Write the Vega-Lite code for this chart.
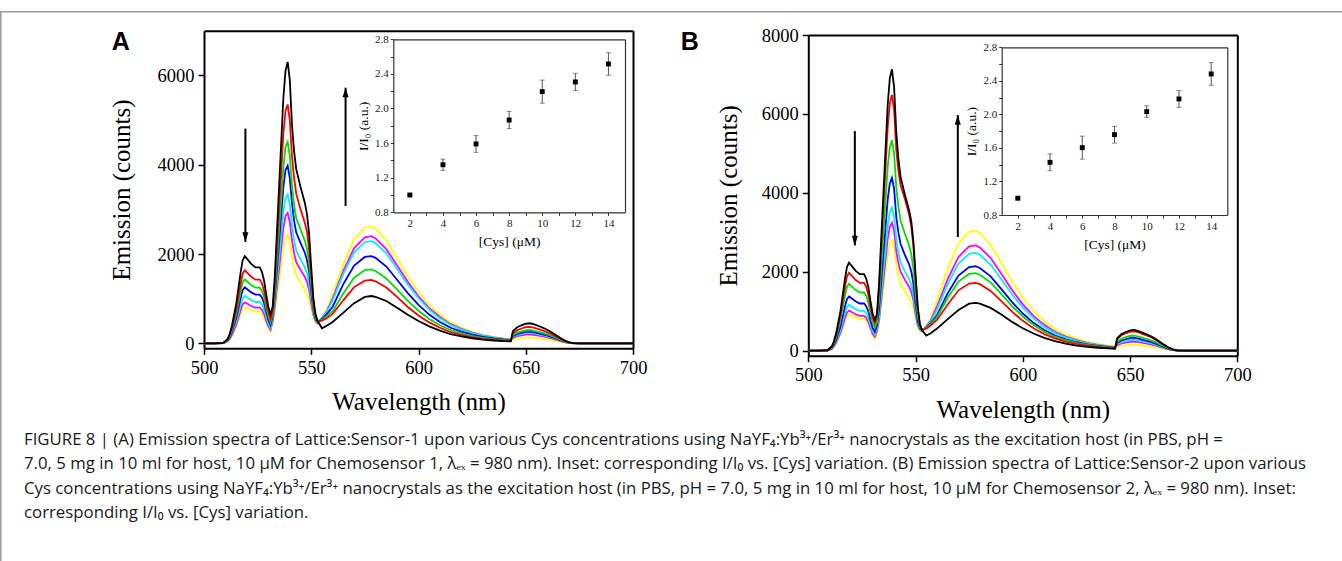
{
"$schema": "https://vega.github.io/schema/vega-lite/v6.json",
"width": 1342, "height": 561, "autosize": {"type": "none"}, "padding": 0, "background": "white",
"config": {"view": {"stroke": null}, "axis": {"grid": false, "labelFlush": false, "labelOverlap": false, "labelFont": "Liberation Serif", "titleFont": "Liberation Serif", "titleFontWeight": "normal", "labelColor": "#000", "titleColor": "#000", "domainColor": "#000", "tickColor": "#000"}},
"title": {"text": ["FIGURE 8 | (A) Emission spectra of Lattice:Sensor-1 upon various Cys concentrations using NaYF₄:Yb³⁺/Er³⁺ nanocrystals as the excitation host (in PBS, pH =", "7.0, 5 mg in 10 ml for host, 10 μM for Chemosensor 1, λₑₓ = 980 nm). Inset: corresponding I/I₀ vs. [Cys] variation. (B) Emission spectra of Lattice:Sensor-2 upon various", "Cys concentrations using NaYF₄:Yb³⁺/Er³⁺ nanocrystals as the excitation host (in PBS, pH = 7.0, 5 mg in 10 ml for host, 10 μM for Chemosensor 2, λₑₓ = 980 nm). Inset:", "corresponding I/I₀ vs. [Cys] variation."], "orient": "bottom", "anchor": "start", "frame": "group", "offset": -130, "dx": 24, "baseline": "top", "font": "Open Sans", "fontSize": 16.8, "fontWeight": "normal", "color": "#1a1a1a", "lineHeight": 24.5},
"datasets": {
"spec": [
{"p":"A","w":500,"K":0,"R":0,"G":0,"B":0,"C":0,"M":0,"Y":0},
{"p":"A","w":505,"K":0,"R":0,"G":0,"B":0,"C":0,"M":0,"Y":0},
{"p":"A","w":509,"K":10,"R":8,"G":7,"B":6,"C":5,"M":5,"Y":4},
{"p":"A","w":511,"K":98,"R":82,"G":72,"B":63,"C":53,"M":46,"Y":41},
{"p":"A","w":512,"K":215,"R":180,"G":158,"B":138,"C":117,"M":101,"Y":89},
{"p":"A","w":513,"K":391,"R":328,"G":287,"B":251,"C":213,"M":184,"Y":162},
{"p":"A","w":515,"K":880,"R":738,"G":646,"B":565,"C":479,"M":414,"Y":365},
{"p":"A","w":517,"K":1564,"R":1312,"G":1148,"B":1004,"C":852,"M":736,"Y":648},
{"p":"A","w":518,"K":1857,"R":1558,"G":1363,"B":1192,"C":1012,"M":874,"Y":770},
{"p":"A","w":519,"K":1955,"R":1640,"G":1435,"B":1255,"C":1065,"M":920,"Y":810},
{"p":"A","w":520,"K":1896,"R":1591,"G":1392,"B":1217,"C":1033,"M":892,"Y":786},
{"p":"A","w":522,"K":1779,"R":1492,"G":1306,"B":1142,"C":969,"M":837,"Y":737},
{"p":"A","w":524,"K":1700,"R":1427,"G":1248,"B":1092,"C":927,"M":800,"Y":705},
{"p":"A","w":526,"K":1700,"R":1427,"G":1248,"B":1092,"C":927,"M":800,"Y":705},
{"p":"A","w":527,"K":1603,"R":1345,"G":1177,"B":1029,"C":873,"M":754,"Y":664},
{"p":"A","w":528,"K":1408,"R":1181,"G":1033,"B":904,"C":767,"M":662,"Y":583},
{"p":"A","w":529,"K":1095,"R":918,"G":804,"B":703,"C":596,"M":515,"Y":454},
{"p":"A","w":530,"K":821,"R":689,"G":603,"B":527,"C":447,"M":386,"Y":340},
{"p":"A","w":531,"K":645,"R":541,"G":474,"B":414,"C":351,"M":304,"Y":267},
{"p":"A","w":532,"K":820,"R":720,"G":650,"B":600,"C":540,"M":500,"Y":420},
{"p":"A","w":533,"K":1500,"R":1300,"G":1150,"B":1050,"C":900,"M":820,"Y":700},
{"p":"A","w":535,"K":3500,"R":3000,"G":2550,"B":2250,"C":1900,"M":1670,"Y":1400},
{"p":"A","w":537,"K":5500,"R":4700,"G":3950,"B":3500,"C":2950,"M":2580,"Y":2150},
{"p":"A","w":538,"K":6100,"R":5200,"G":4400,"B":3880,"C":3250,"M":2850,"Y":2380},
{"p":"A","w":539,"K":6300,"R":5350,"G":4510,"B":3980,"C":3330,"M":2920,"Y":2440},
{"p":"A","w":540,"K":5900,"R":5000,"G":4200,"B":3700,"C":3100,"M":2720,"Y":2270},
{"p":"A","w":541,"K":4900,"R":4200,"G":3550,"B":3150,"C":2650,"M":2320,"Y":1950},
{"p":"A","w":542,"K":4300,"R":3700,"G":3100,"B":2750,"C":2300,"M":2020,"Y":1700},
{"p":"A","w":543,"K":3900,"R":3350,"G":2800,"B":2480,"C":2080,"M":1820,"Y":1530},
{"p":"A","w":545,"K":3500,"R":3000,"G":2550,"B":2250,"C":1880,"M":1650,"Y":1350},
{"p":"A","w":547,"K":3150,"R":2700,"G":2300,"B":2030,"C":1700,"M":1490,"Y":1200},
{"p":"A","w":548,"K":2900,"R":2500,"G":2120,"B":1870,"C":1570,"M":1380,"Y":1100},
{"p":"A","w":549,"K":2450,"R":2100,"G":1800,"B":1600,"C":1350,"M":1200,"Y":980},
{"p":"A","w":550,"K":1700,"R":1500,"G":1300,"B":1150,"C":1000,"M":900,"Y":780},
{"p":"A","w":551,"K":1000,"R":900,"G":800,"B":750,"C":680,"M":640,"Y":580},
{"p":"A","w":552,"K":650,"R":600,"G":560,"B":540,"C":510,"M":500,"Y":470},
{"p":"A","w":553,"K":500,"R":490,"G":480,"B":470,"C":460,"M":450,"Y":440},
{"p":"A","w":555,"K":340,"R":510,"G":530,"B":550,"C":560,"M":570,"Y":580},
{"p":"A","w":557,"K":390,"R":560,"G":600,"B":640,"C":680,"M":700,"Y":730},
{"p":"A","w":560,"K":480,"R":660,"G":720,"B":820,"C":960,"M":1010,"Y":1100},
{"p":"A","w":565,"K":690,"R":970,"G":1120,"B":1330,"C":1560,"M":1630,"Y":1780},
{"p":"A","w":570,"K":900,"R":1260,"G":1470,"B":1740,"C":2040,"M":2135,"Y":2330},
{"p":"A","w":575,"K":1040,"R":1405,"G":1640,"B":1935,"C":2270,"M":2375,"Y":2595},
{"p":"A","w":578,"K":1060,"R":1420,"G":1655,"B":1955,"C":2290,"M":2400,"Y":2620},
{"p":"A","w":580,"K":1040,"R":1390,"G":1620,"B":1915,"C":2245,"M":2350,"Y":2570},
{"p":"A","w":585,"K":950,"R":1250,"G":1455,"B":1720,"C":2015,"M":2110,"Y":2305},
{"p":"A","w":590,"K":800,"R":1040,"G":1210,"B":1425,"C":1670,"M":1750,"Y":1910},
{"p":"A","w":595,"K":640,"R":815,"G":950,"B":1125,"C":1315,"M":1380,"Y":1505},
{"p":"A","w":600,"K":500,"R":625,"G":730,"B":860,"C":1010,"M":1055,"Y":1150},
{"p":"A","w":605,"K":380,"R":470,"G":545,"B":645,"C":755,"M":790,"Y":865},
{"p":"A","w":610,"K":285,"R":350,"G":405,"B":480,"C":560,"M":590,"Y":640},
{"p":"A","w":615,"K":210,"R":255,"G":300,"B":350,"C":410,"M":430,"Y":470},
{"p":"A","w":620,"K":155,"R":190,"G":223,"B":264,"C":310,"M":325,"Y":355},
{"p":"A","w":625,"K":115,"R":142,"G":165,"B":195,"C":230,"M":240,"Y":262},
{"p":"A","w":630,"K":85,"R":107,"G":124,"B":147,"C":172,"M":180,"Y":197},
{"p":"A","w":635,"K":65,"R":80,"G":93,"B":110,"C":128,"M":134,"Y":147},
{"p":"A","w":640,"K":50,"R":60,"G":70,"B":82,"C":96,"M":100,"Y":110},
{"p":"A","w":643,"K":45,"R":50,"G":58,"B":68,"C":80,"M":84,"Y":92},
{"p":"A","w":644,"K":270,"R":220,"G":180,"B":160,"C":145,"M":125,"Y":95},
{"p":"A","w":646,"K":360,"R":295,"G":240,"B":210,"C":188,"M":160,"Y":108},
{"p":"A","w":648,"K":405,"R":333,"G":270,"B":236,"C":212,"M":180,"Y":117},
{"p":"A","w":650,"K":440,"R":362,"G":294,"B":257,"C":230,"M":196,"Y":127},
{"p":"A","w":652,"K":450,"R":370,"G":300,"B":262,"C":235,"M":200,"Y":130},
{"p":"A","w":654,"K":425,"R":348,"G":282,"B":246,"C":221,"M":188,"Y":122},
{"p":"A","w":656,"K":390,"R":318,"G":258,"B":225,"C":202,"M":172,"Y":112},
{"p":"A","w":658,"K":350,"R":288,"G":234,"B":204,"C":183,"M":156,"Y":101},
{"p":"A","w":660,"K":305,"R":252,"G":204,"B":178,"C":160,"M":136,"Y":88},
{"p":"A","w":662,"K":250,"R":207,"G":168,"B":147,"C":132,"M":112,"Y":73},
{"p":"A","w":664,"K":190,"R":155,"G":126,"B":110,"C":99,"M":84,"Y":55},
{"p":"A","w":666,"K":125,"R":104,"G":84,"B":73,"C":66,"M":56,"Y":36},
{"p":"A","w":668,"K":68,"R":55,"G":45,"B":39,"C":35,"M":30,"Y":20},
{"p":"A","w":670,"K":27,"R":22,"G":18,"B":16,"C":14,"M":12,"Y":8},
{"p":"A","w":672,"K":8,"R":6,"G":5,"B":4,"C":4,"M":3,"Y":2},
{"p":"A","w":675,"K":0,"R":0,"G":0,"B":0,"C":0,"M":0,"Y":0},
{"p":"A","w":690,"K":0,"R":0,"G":0,"B":0,"C":0,"M":0,"Y":0},
{"p":"A","w":700,"K":0,"R":0,"G":0,"B":0,"C":0,"M":0,"Y":0},
{"p":"B","w":500,"K":0,"R":0,"G":0,"B":0,"C":0,"M":0,"Y":0},
{"p":"B","w":505,"K":0,"R":0,"G":0,"B":0,"C":0,"M":0,"Y":0},
{"p":"B","w":509,"K":11,"R":10,"G":8,"B":7,"C":6,"M":5,"Y":5},
{"p":"B","w":511,"K":112,"R":99,"G":85,"B":69,"C":58,"M":51,"Y":47},
{"p":"B","w":512,"K":245,"R":217,"G":186,"B":151,"C":128,"M":112,"Y":102},
{"p":"B","w":513,"K":446,"R":395,"G":339,"B":275,"C":232,"M":203,"Y":186},
{"p":"B","w":515,"K":1004,"R":889,"G":763,"B":619,"C":522,"M":457,"Y":419},
{"p":"B","w":517,"K":1784,"R":1580,"G":1356,"B":1100,"C":928,"M":812,"Y":744},
{"p":"B","w":518,"K":2119,"R":1876,"G":1610,"B":1306,"C":1102,"M":964,"Y":884},
{"p":"B","w":519,"K":2230,"R":1975,"G":1695,"B":1375,"C":1160,"M":1015,"Y":930},
{"p":"B","w":520,"K":2163,"R":1916,"G":1644,"B":1334,"C":1125,"M":985,"Y":902},
{"p":"B","w":522,"K":2029,"R":1797,"G":1542,"B":1251,"C":1056,"M":924,"Y":846},
{"p":"B","w":524,"K":1940,"R":1718,"G":1475,"B":1196,"C":1009,"M":883,"Y":809},
{"p":"B","w":526,"K":1940,"R":1718,"G":1475,"B":1196,"C":1009,"M":883,"Y":809},
{"p":"B","w":527,"K":1829,"R":1620,"G":1390,"B":1128,"C":951,"M":832,"Y":763},
{"p":"B","w":528,"K":1606,"R":1422,"G":1220,"B":990,"C":835,"M":731,"Y":670},
{"p":"B","w":529,"K":1249,"R":1106,"G":949,"B":770,"C":650,"M":568,"Y":521},
{"p":"B","w":530,"K":937,"R":830,"G":712,"B":578,"C":487,"M":426,"Y":391},
{"p":"B","w":531,"K":780,"R":690,"G":590,"B":480,"C":405,"M":355,"Y":300},
{"p":"B","w":532,"K":930,"R":850,"G":720,"B":640,"C":560,"M":500,"Y":420},
{"p":"B","w":533,"K":1710,"R":1560,"G":1280,"B":1050,"C":870,"M":780,"Y":680},
{"p":"B","w":535,"K":3960,"R":3600,"G":2960,"B":2430,"C":2010,"M":1800,"Y":1560},
{"p":"B","w":537,"K":6220,"R":5650,"G":4650,"B":3820,"C":3160,"M":2830,"Y":2450},
{"p":"B","w":538,"K":6900,"R":6270,"G":5160,"B":4240,"C":3510,"M":3140,"Y":2720},
{"p":"B","w":539,"K":7130,"R":6480,"G":5335,"B":4380,"C":3625,"M":3245,"Y":2810},
{"p":"B","w":540,"K":6680,"R":6100,"G":5000,"B":4100,"C":3400,"M":3040,"Y":2630},
{"p":"B","w":541,"K":5550,"R":5100,"G":4150,"B":3400,"C":2820,"M":2520,"Y":2190},
{"p":"B","w":542,"K":4870,"R":4550,"G":3650,"B":2990,"C":2480,"M":2220,"Y":1900},
{"p":"B","w":543,"K":4410,"R":4200,"G":3300,"B":2710,"C":2240,"M":2010,"Y":1700},
{"p":"B","w":545,"K":3960,"R":3850,"G":2970,"B":2430,"C":2010,"M":1800,"Y":1500},
{"p":"B","w":547,"K":3560,"R":3450,"G":2670,"B":2190,"C":1810,"M":1620,"Y":1340},
{"p":"B","w":548,"K":3280,"R":3150,"G":2450,"B":2010,"C":1670,"M":1490,"Y":1230},
{"p":"B","w":549,"K":2770,"R":2650,"G":2080,"B":1700,"C":1420,"M":1280,"Y":1080},
{"p":"B","w":550,"K":1930,"R":1850,"G":1450,"B":1200,"C":1020,"M":930,"Y":820},
{"p":"B","w":551,"K":1130,"R":1080,"G":870,"B":760,"C":680,"M":650,"Y":600},
{"p":"B","w":552,"K":680,"R":660,"G":610,"B":580,"C":550,"M":530,"Y":500},
{"p":"B","w":553,"K":520,"R":530,"G":520,"B":510,"C":500,"M":490,"Y":470},
{"p":"B","w":555,"K":380,"R":560,"G":580,"B":590,"C":600,"M":610,"Y":620},
{"p":"B","w":557,"K":440,"R":640,"G":670,"B":690,"C":730,"M":760,"Y":800},
{"p":"B","w":560,"K":560,"R":780,"G":850,"B":900,"C":1040,"M":1120,"Y":1280},
{"p":"B","w":565,"K":800,"R":1170,"G":1340,"B":1455,"C":1690,"M":1815,"Y":2074},
{"p":"B","w":570,"K":1030,"R":1530,"G":1750,"B":1905,"C":2210,"M":2376,"Y":2715},
{"p":"B","w":575,"K":1190,"R":1700,"G":1945,"B":2120,"C":2455,"M":2643,"Y":3020},
{"p":"B","w":578,"K":1210,"R":1720,"G":1965,"B":2140,"C":2480,"M":2670,"Y":3050},
{"p":"B","w":580,"K":1190,"R":1685,"G":1925,"B":2097,"C":2430,"M":2617,"Y":2990},
{"p":"B","w":585,"K":1085,"R":1515,"G":1730,"B":1883,"C":2182,"M":2350,"Y":2684},
{"p":"B","w":590,"K":915,"R":1255,"G":1435,"B":1562,"C":1810,"M":1949,"Y":2227},
{"p":"B","w":595,"K":730,"R":990,"G":1130,"B":1230,"C":1426,"M":1535,"Y":1754},
{"p":"B","w":600,"K":570,"R":757,"G":865,"B":942,"C":1091,"M":1175,"Y":1342},
{"p":"B","w":605,"K":435,"R":568,"G":648,"B":706,"C":818,"M":881,"Y":1007},
{"p":"B","w":610,"K":325,"R":421,"G":481,"B":524,"C":608,"M":654,"Y":747},
{"p":"B","w":615,"K":240,"R":310,"G":354,"B":385,"C":446,"M":481,"Y":549},
{"p":"B","w":620,"K":177,"R":232,"G":265,"B":289,"C":335,"M":360,"Y":412},
{"p":"B","w":625,"K":130,"R":172,"G":197,"B":214,"C":248,"M":267,"Y":305},
{"p":"B","w":630,"K":97,"R":129,"G":147,"B":160,"C":186,"M":200,"Y":229},
{"p":"B","w":635,"K":74,"R":96,"G":110,"B":120,"C":139,"M":150,"Y":171},
{"p":"B","w":640,"K":57,"R":72,"G":83,"B":90,"C":104,"M":112,"Y":128},
{"p":"B","w":643,"K":50,"R":60,"G":69,"B":75,"C":87,"M":93,"Y":107},
{"p":"B","w":644,"K":315,"R":294,"G":228,"B":193,"C":163,"M":138,"Y":115},
{"p":"B","w":646,"K":420,"R":392,"G":304,"B":258,"C":218,"M":184,"Y":122},
{"p":"B","w":648,"K":473,"R":441,"G":342,"B":290,"C":245,"M":207,"Y":137},
{"p":"B","w":650,"K":515,"R":480,"G":372,"B":316,"C":267,"M":225,"Y":149},
{"p":"B","w":652,"K":525,"R":490,"G":380,"B":322,"C":272,"M":230,"Y":152},
{"p":"B","w":654,"K":494,"R":461,"G":357,"B":303,"C":256,"M":216,"Y":143},
{"p":"B","w":656,"K":452,"R":421,"G":327,"B":277,"C":234,"M":198,"Y":131},
{"p":"B","w":658,"K":410,"R":382,"G":296,"B":251,"C":212,"M":179,"Y":119},
{"p":"B","w":660,"K":357,"R":333,"G":258,"B":219,"C":185,"M":156,"Y":103},
{"p":"B","w":662,"K":294,"R":274,"G":213,"B":180,"C":152,"M":129,"Y":85},
{"p":"B","w":664,"K":221,"R":206,"G":160,"B":135,"C":114,"M":97,"Y":64},
{"p":"B","w":666,"K":147,"R":137,"G":106,"B":90,"C":76,"M":64,"Y":43},
{"p":"B","w":668,"K":79,"R":74,"G":57,"B":48,"C":41,"M":35,"Y":23},
{"p":"B","w":670,"K":32,"R":29,"G":23,"B":19,"C":16,"M":14,"Y":9},
{"p":"B","w":672,"K":8,"R":7,"G":6,"B":5,"C":4,"M":3,"Y":2},
{"p":"B","w":675,"K":0,"R":0,"G":0,"B":0,"C":0,"M":0,"Y":0},
{"p":"B","w":690,"K":0,"R":0,"G":0,"B":0,"C":0,"M":0,"Y":0},
{"p":"B","w":700,"K":0,"R":0,"G":0,"B":0,"C":0,"M":0,"Y":0}
],
"inset": [
{"p":"A","c":2,"r":1.0,"e":0},
{"p":"A","c":4,"r":1.35,"e":0.065},
{"p":"A","c":6,"r":1.59,"e":0.097},
{"p":"A","c":8,"r":1.867,"e":0.1},
{"p":"A","c":10,"r":2.195,"e":0.133},
{"p":"A","c":12,"r":2.307,"e":0.1},
{"p":"A","c":14,"r":2.515,"e":0.13},
{"p":"B","c":2,"r":1.0,"e":0},
{"p":"B","c":4,"r":1.428,"e":0.1},
{"p":"B","c":6,"r":1.603,"e":0.137},
{"p":"B","c":8,"r":1.758,"e":0.1},
{"p":"B","c":10,"r":2.033,"e":0.068},
{"p":"B","c":12,"r":2.184,"e":0.1},
{"p":"B","c":14,"r":2.482,"e":0.135}
],
"arrows": [
{"p":"A","w":519.3,"y1":4808,"y2":2272,"dir":"down"},
{"p":"A","w":566,"y1":3077,"y2":5724,"dir":"up"},
{"p":"B","w":521.7,"y1":5563,"y2":2667,"dir":"down"},
{"p":"B","w":569.7,"y1":2879,"y2":5970,"dir":"up"}
],
"labels": [
{"p":"A","t":"A","w":461.2,"v":6744},
{"p":"B","t":"B","w":444.8,"v":7830}
]
},
"resolve": {"scale": {"x": "independent", "y": "independent", "color": "independent", "shape": "independent"}, "axis": {"x": "independent", "y": "independent"}},
"layer": [
{"data": {"values": [{}]}, "mark": {"type": "rule", "color": "#9a9a9a", "strokeWidth": 1.5},
 "encoding": {"y": {"datum": 1, "type": "quantitative", "scale": {"domain": [0, 1], "range": [561, 11.7]}, "axis": null}}},
{"data": {"values": [{}]}, "mark": {"type": "rule", "color": "#9a9a9a", "strokeWidth": 1.5},
 "encoding": {"x": {"datum": 0, "type": "quantitative", "scale": {"domain": [0, 1], "range": [0.75, 1342]}, "axis": null},
  "y": {"datum": 1, "type": "quantitative", "scale": {"domain": [0, 1], "range": [561, 11.7]}, "axis": null}, "y2": {"datum": 0}}},

{"data": {"name": "spec"}, "transform": [{"filter": "datum.p == 'A'"}, {"fold": ["Y","M","C","B","G","R","K"], "as": ["s", "v"]}],
 "mark": {"type": "line", "strokeWidth": 1.8},
 "encoding": {
  "x": {"field": "w", "type": "quantitative", "scale": {"domain": [500, 700], "range": [204, 633], "nice": false, "zero": false},
   "axis": {"orient": "bottom", "offset": -212.7, "values": [500, 550, 600, 650, 700], "format": "d", "title": "Wavelength (nm)", "labelFontSize": 18.5, "titleFontSize": 25, "tickSize": 6, "tickWidth": 1.5, "domainWidth": 2, "labelPadding": 4, "titlePadding": 13}},
  "y": {"field": "v", "type": "quantitative", "scale": {"domain": [-110, 7000], "range": [348.3, 30.7], "nice": false, "zero": false},
   "axis": {"orient": "left", "offset": -204, "values": [0, 2000, 4000, 6000], "format": "d", "title": "Emission (counts)", "labelFontSize": 18.5, "titleFontSize": 25, "tickSize": 6, "tickWidth": 1.5, "domainWidth": 2, "labelPadding": 4, "titlePadding": 23}},
  "color": {"field": "s", "type": "nominal", "scale": {"domain": ["K","R","G","B","C","M","Y"], "range": ["#000000","#ff0000","#00e000","#0000ff","#00f0ff","#ff00ff","#ffff00"]}, "legend": null}}},
{"data": {"name": "arrows"}, "transform": [{"filter": "datum.p == 'A'"}],
 "mark": {"type": "rule", "color": "#000", "strokeWidth": 2},
 "encoding": {
  "x": {"field": "w", "type": "quantitative", "scale": {"domain": [500, 700], "range": [204, 633], "nice": false, "zero": false}, "axis": {"orient": "top", "offset": -30.7, "labels": false, "ticks": false, "title": null, "domainWidth": 2}},
  "y": {"field": "y1", "type": "quantitative", "scale": {"domain": [-110, 7000], "range": [348.3, 30.7], "nice": false, "zero": false}, "axis": {"orient": "right", "offset": -709, "labels": false, "ticks": false, "title": null, "domainWidth": 2}},
  "y2": {"field": "y2"}}},
{"data": {"name": "arrows"}, "transform": [{"filter": "datum.p == 'A'"}],
 "mark": {"type": "point", "filled": true, "color": "#000", "opacity": 1, "size": 64, "strokeWidth": 0},
 "encoding": {
  "x": {"field": "w", "type": "quantitative", "scale": {"domain": [500, 700], "range": [204, 633], "nice": false, "zero": false}, "axis": null},
  "y": {"field": "y2", "type": "quantitative", "scale": {"domain": [-110, 7000], "range": [348.3, 30.7], "nice": false, "zero": false}, "axis": null},
  "shape": {"field": "dir", "type": "nominal", "scale": {"domain": ["down", "up"], "range": ["M-0.75,-2.4L0.75,-2.4L0,0Z", "M-0.75,2.4L0.75,2.4L0,0Z"]}, "legend": null}}},
{"data": {"name": "labels"}, "transform": [{"filter": "datum.p == 'A'"}],
 "mark": {"type": "text", "font": "Liberation Sans", "fontWeight": "bold", "fontSize": 25, "color": "#000", "align": "center", "baseline": "middle"},
 "encoding": {
  "x": {"field": "w", "type": "quantitative", "scale": {"domain": [500, 700], "range": [204, 633], "nice": false, "zero": false}, "axis": null},
  "y": {"field": "v", "type": "quantitative", "scale": {"domain": [-110, 7000], "range": [348.3, 30.7], "nice": false, "zero": false}, "axis": null},
  "text": {"field": "t"}}},

{"data": {"name": "spec"}, "transform": [{"filter": "datum.p == 'B'"}, {"fold": ["Y","M","C","B","G","R","K"], "as": ["s", "v"]}],
 "mark": {"type": "line", "strokeWidth": 1.8},
 "encoding": {
  "x": {"field": "w", "type": "quantitative", "scale": {"domain": [500, 700], "range": [808.3, 1237.3], "nice": false, "zero": false},
   "axis": {"orient": "bottom", "offset": -205.3, "values": [500, 550, 600, 650, 700], "format": "d", "title": "Wavelength (nm)", "labelFontSize": 18.5, "titleFontSize": 25, "tickSize": 6, "tickWidth": 1.5, "domainWidth": 2, "labelPadding": 4, "titlePadding": 13}},
  "y": {"field": "v", "type": "quantitative", "scale": {"domain": [-127, 8000], "range": [355.7, 35], "nice": false, "zero": false},
   "axis": {"orient": "left", "offset": -808.3, "values": [0, 2000, 4000, 6000, 8000], "format": "d", "title": "Emission (counts)", "labelFontSize": 18.5, "titleFontSize": 25, "tickSize": 6, "tickWidth": 1.5, "domainWidth": 2, "labelPadding": 4, "titlePadding": 20}},
  "color": {"field": "s", "type": "nominal", "scale": {"domain": ["K","R","G","B","C","M","Y"], "range": ["#000000","#ff0000","#00e000","#0000ff","#00f0ff","#ff00ff","#ffff00"]}, "legend": null}}},
{"data": {"name": "arrows"}, "transform": [{"filter": "datum.p == 'B'"}],
 "mark": {"type": "rule", "color": "#000", "strokeWidth": 2},
 "encoding": {
  "x": {"field": "w", "type": "quantitative", "scale": {"domain": [500, 700], "range": [808.3, 1237.3], "nice": false, "zero": false}, "axis": {"orient": "top", "offset": -35, "labels": false, "ticks": false, "title": null, "domainWidth": 2}},
  "y": {"field": "y1", "type": "quantitative", "scale": {"domain": [-127, 8000], "range": [355.7, 35], "nice": false, "zero": false}, "axis": {"orient": "right", "offset": -104.7, "labels": false, "ticks": false, "title": null, "domainWidth": 2}},
  "y2": {"field": "y2"}}},
{"data": {"name": "arrows"}, "transform": [{"filter": "datum.p == 'B'"}],
 "mark": {"type": "point", "filled": true, "color": "#000", "opacity": 1, "size": 64, "strokeWidth": 0},
 "encoding": {
  "x": {"field": "w", "type": "quantitative", "scale": {"domain": [500, 700], "range": [808.3, 1237.3], "nice": false, "zero": false}, "axis": null},
  "y": {"field": "y2", "type": "quantitative", "scale": {"domain": [-127, 8000], "range": [355.7, 35], "nice": false, "zero": false}, "axis": null},
  "shape": {"field": "dir", "type": "nominal", "scale": {"domain": ["down", "up"], "range": ["M-0.75,-2.4L0.75,-2.4L0,0Z", "M-0.75,2.4L0.75,2.4L0,0Z"]}, "legend": null}}},
{"data": {"name": "labels"}, "transform": [{"filter": "datum.p == 'B'"}],
 "mark": {"type": "text", "font": "Liberation Sans", "fontWeight": "bold", "fontSize": 25, "color": "#000", "align": "center", "baseline": "middle"},
 "encoding": {
  "x": {"field": "w", "type": "quantitative", "scale": {"domain": [500, 700], "range": [808.3, 1237.3], "nice": false, "zero": false}, "axis": null},
  "y": {"field": "v", "type": "quantitative", "scale": {"domain": [-127, 8000], "range": [355.7, 35], "nice": false, "zero": false}, "axis": null},
  "text": {"field": "t"}}},

{"data": {"name": "inset"}, "transform": [{"filter": "datum.p == 'A'"}],
 "mark": {"type": "errorbar", "ticks": {"size": 5}, "color": "#555"},
 "encoding": {
  "x": {"field": "c", "type": "quantitative", "scale": {"domain": [1, 15], "range": [393.3, 625], "nice": false, "zero": false}, "axis": {"orient": "top", "offset": -39.3, "labels": false, "ticks": false, "title": null, "domainColor": "#333", "domainWidth": 1.2}},
  "y": {"field": "r", "type": "quantitative", "scale": {"domain": [0.8, 2.8], "range": [212.3, 39.3], "nice": false, "zero": false}, "axis": {"orient": "right", "offset": -717, "labels": false, "ticks": false, "title": null, "domainColor": "#333", "domainWidth": 1.2}},
  "yError": {"field": "e"}}},
{"data": {"name": "inset"}, "transform": [{"filter": "datum.p == 'A'"}],
 "mark": {"type": "point", "shape": "square", "filled": true, "size": 24, "color": "#000", "opacity": 1},
 "encoding": {
  "x": {"field": "c", "type": "quantitative", "scale": {"domain": [1, 15], "range": [393.3, 625], "nice": false, "zero": false},
   "axis": {"orient": "bottom", "offset": -348.7, "values": [2,3,4,5,6,7,8,9,10,11,12,13,14], "labelExpr": "datum.value % 2 == 0 ? datum.label : ''", "title": "[Cys] (μM)", "labelFontSize": 11, "titleFontSize": 13.5, "tickSize": 3, "tickColor": "#333", "domainColor": "#333", "domainWidth": 1.2, "labelPadding": 2, "titlePadding": 6, "labelColor": "#222"}},
  "y": {"field": "r", "type": "quantitative", "scale": {"domain": [0.8, 2.8], "range": [212.3, 39.3], "nice": false, "zero": false},
   "axis": {"orient": "left", "offset": -393.3, "values": [0.8,1.0,1.2,1.4,1.6,1.8,2.0,2.2,2.4,2.6,2.8], "labelExpr": "indexof(['0.8','1.2','1.6','2.0','2.4','2.8'], format(datum.value, '.1f')) >= 0 ? format(datum.value, '.1f') : ''", "title": "I/I₀ (a.u.)", "labelFontSize": 11, "titleFontSize": 13.5, "tickSize": 3, "tickColor": "#333", "domainColor": "#333", "domainWidth": 1.2, "labelPadding": 2, "titlePadding": 4, "labelColor": "#222"}}}},

{"data": {"name": "inset"}, "transform": [{"filter": "datum.p == 'B'"}],
 "mark": {"type": "errorbar", "ticks": {"size": 5}, "color": "#555"},
 "encoding": {
  "x": {"field": "c", "type": "quantitative", "scale": {"domain": [1, 15], "range": [1001.7, 1227.3], "nice": false, "zero": false}, "axis": {"orient": "top", "offset": -47.3, "labels": false, "ticks": false, "title": null, "domainColor": "#333", "domainWidth": 1.2}},
  "y": {"field": "r", "type": "quantitative", "scale": {"domain": [0.8, 2.8], "range": [215, 47.3], "nice": false, "zero": false}, "axis": {"orient": "right", "offset": -114.7, "labels": false, "ticks": false, "title": null, "domainColor": "#333", "domainWidth": 1.2}},
  "yError": {"field": "e"}}},
{"data": {"name": "inset"}, "transform": [{"filter": "datum.p == 'B'"}],
 "mark": {"type": "point", "shape": "square", "filled": true, "size": 24, "color": "#000", "opacity": 1},
 "encoding": {
  "x": {"field": "c", "type": "quantitative", "scale": {"domain": [1, 15], "range": [1001.7, 1227.3], "nice": false, "zero": false},
   "axis": {"orient": "bottom", "offset": -346, "values": [2,3,4,5,6,7,8,9,10,11,12,13,14], "labelExpr": "datum.value % 2 == 0 ? datum.label : ''", "title": "[Cys] (μM)", "labelFontSize": 11, "titleFontSize": 13.5, "tickSize": 3, "tickColor": "#333", "domainColor": "#333", "domainWidth": 1.2, "labelPadding": 2, "titlePadding": 6, "labelColor": "#222"}},
  "y": {"field": "r", "type": "quantitative", "scale": {"domain": [0.8, 2.8], "range": [215, 47.3], "nice": false, "zero": false},
   "axis": {"orient": "left", "offset": -1001.7, "values": [0.8,1.0,1.2,1.4,1.6,1.8,2.0,2.2,2.4,2.6,2.8], "labelExpr": "indexof(['0.8','1.2','1.6','2.0','2.4','2.8'], format(datum.value, '.1f')) >= 0 ? format(datum.value, '.1f') : ''", "title": "I/I₀ (a.u.)", "labelFontSize": 11, "titleFontSize": 13.5, "tickSize": 3, "tickColor": "#333", "domainColor": "#333", "domainWidth": 1.2, "labelPadding": 2, "titlePadding": 4, "labelColor": "#222"}}}}
]
}
